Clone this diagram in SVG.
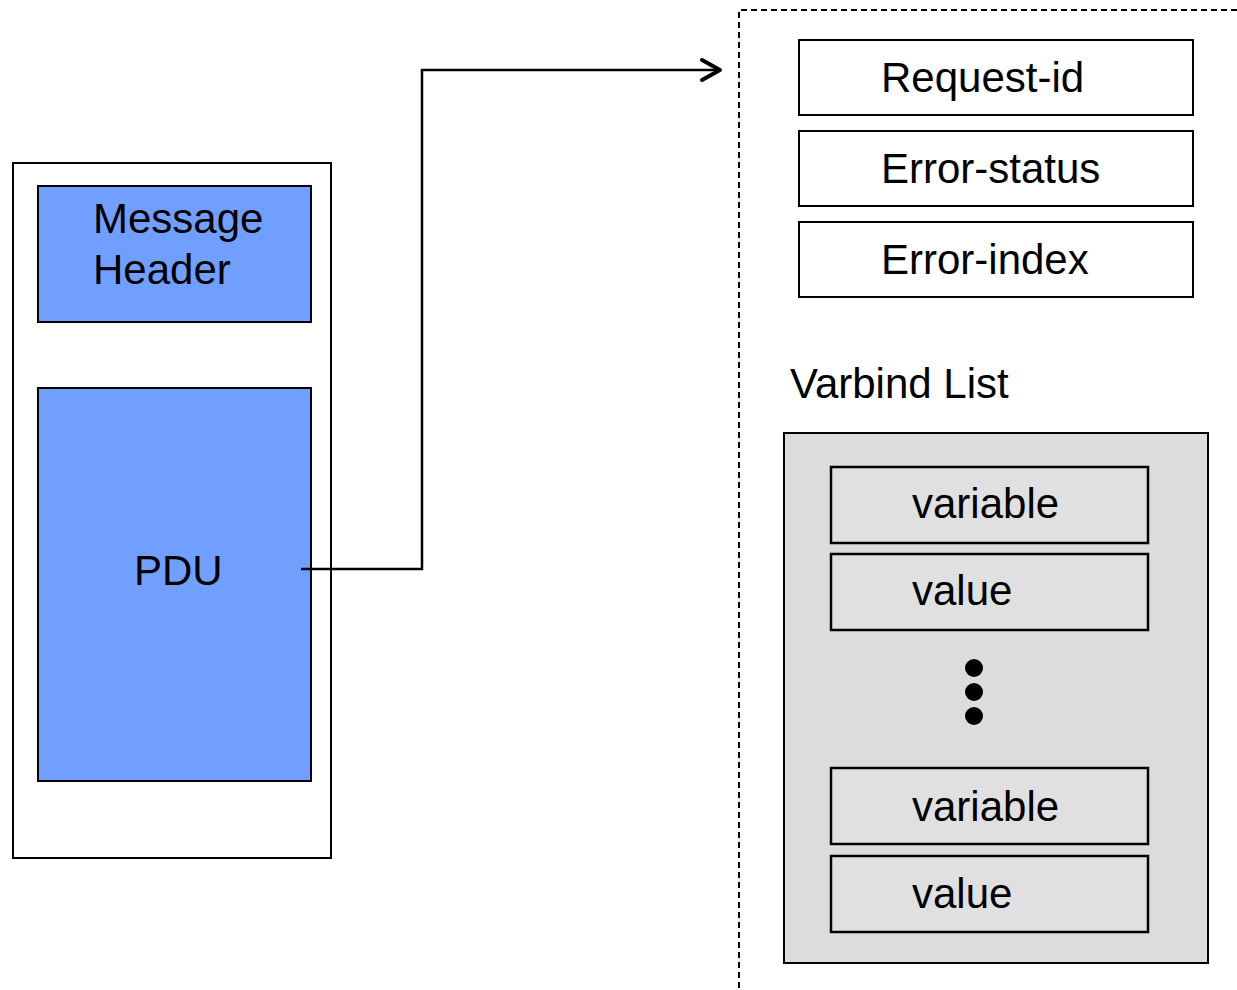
<svg xmlns="http://www.w3.org/2000/svg" width="1237" height="990" viewBox="0 0 1237 990">
  <defs>
    <style>
      .lbl { font-family: "Liberation Sans", Arial, sans-serif; font-size: 42px; fill: #000; }
      .frame { fill: #fff; stroke: #000; stroke-width: 2; }
      .blue { fill: #709fff; stroke: #000; stroke-width: 2; }
      .field { fill: #fff; stroke: #000; stroke-width: 2; }
      .list { fill: #dcdcdc; stroke: #000; stroke-width: 2; }
      .item { fill: #e0e0e0; stroke: #000; stroke-width: 2.5; }
      .wire { fill: none; stroke: #000; stroke-width: 2.5; }
    </style>
    <marker id="chev" markerWidth="26" markerHeight="26" refX="21" refY="13" orient="auto" markerUnits="userSpaceOnUse">
      <path d="M3,3 L21,13 L3,23" fill="none" stroke="#000" stroke-width="4" stroke-linecap="round" stroke-linejoin="round"/>
    </marker>
  </defs>

  <!-- SNMP message -->
  <g id="message">
    <rect class="frame" x="13" y="163" width="318" height="695"/>
  </g>
  <g id="header">
    <rect class="blue" x="38" y="186" width="273" height="136"/>
    <text class="lbl" x="93" y="233">Message</text>
    <text class="lbl" x="93" y="284">Header</text>
  </g>
  <g id="pdu">
    <rect class="blue" x="38" y="388" width="273" height="393"/>
    <text class="lbl" x="134" y="585">PDU</text>
  </g>

  <!-- PDU detail frame -->
  <g id="pdu-detail">
    <path d="M739,988 L739,10 L1237,10" fill="none" stroke="#000" stroke-width="2" stroke-dasharray="6,4"/>
  </g>
  <g id="request-id">
    <rect class="field" x="799" y="40" width="394" height="75"/>
    <text class="lbl" x="881" y="92">Request-id</text>
  </g>
  <g id="error-status">
    <rect class="field" x="799" y="131" width="394" height="75"/>
    <text class="lbl" x="881" y="183">Error-status</text>
  </g>
  <g id="error-index">
    <rect class="field" x="799" y="222" width="394" height="75"/>
    <text class="lbl" x="881" y="274">Error-index</text>
  </g>

  <!-- Varbind list -->
  <g id="varbind-list">
    <text class="lbl" x="790" y="398">Varbind List</text>
    <rect class="list" x="784" y="433" width="424" height="530"/>
  </g>
  <g id="variable-1">
    <rect class="item" x="831" y="467" width="317" height="76"/>
    <text class="lbl" x="912" y="518">variable</text>
  </g>
  <g id="value-1">
    <rect class="item" x="831" y="554" width="317" height="76"/>
    <text class="lbl" x="912" y="605">value</text>
  </g>
  <g id="ellipsis">
    <circle cx="974" cy="668" r="9"/>
    <circle cx="974" cy="692" r="9"/>
    <circle cx="974" cy="716" r="9"/>
  </g>
  <g id="variable-n">
    <rect class="item" x="831" y="768" width="317" height="76"/>
    <text class="lbl" x="912" y="821">variable</text>
  </g>
  <g id="value-n">
    <rect class="item" x="831" y="856" width="317" height="76"/>
    <text class="lbl" x="912" y="908">value</text>
  </g>

  <!-- connectors -->
  <g id="connectors">
    <path class="wire" d="M301,569 L422,569 L422,70 L720,70" marker-end="url(#chev)"/>
  </g>
</svg>
